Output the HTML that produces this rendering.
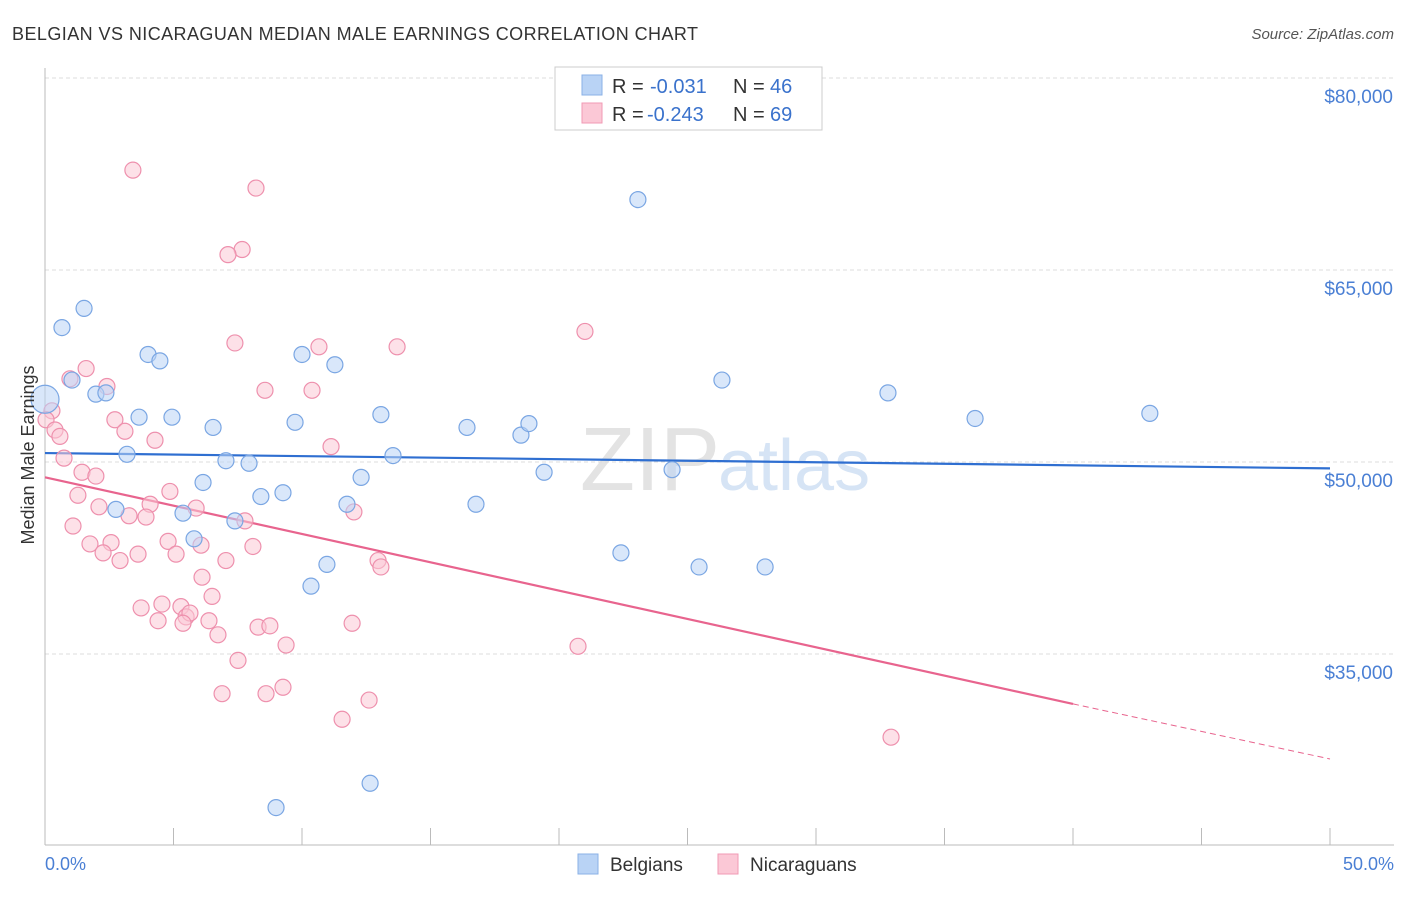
<!DOCTYPE html>
<html><head><meta charset="utf-8">
<style>
body{margin:0;background:#fff;font-family:"Liberation Sans",sans-serif;}
svg text{font-family:"Liberation Sans",sans-serif;}
</style></head>
<body>
<svg id="chart" width="1406" height="892" xmlns="http://www.w3.org/2000/svg">
<text x="12" y="40" font-size="18" fill="#333" textLength="686">BELGIAN VS NICARAGUAN MEDIAN MALE EARNINGS CORRELATION CHART</text>
<text x="1394" y="39" font-size="15" fill="#555" text-anchor="end" font-style="italic">Source: ZipAtlas.com</text>
<text x="720" y="490" font-size="90" fill="#e3e3e3" text-anchor="end" font-family="Liberation Serif">ZIP</text>
<text x="718" y="490" font-size="72" fill="#d6e4f5">atlas</text>
<g id="grid"></g>
<g id="axes"></g>
<g id="lines"></g>
<g id="pts"></g>
<text transform="translate(34,455) rotate(-90)" font-size="18" fill="#333" text-anchor="middle">Median Male Earnings</text>
<text x="45" y="870" font-size="18" fill="#4a7fd4">0.0%</text>
<text x="1394" y="870" font-size="18" fill="#4a7fd4" text-anchor="end">50.0%</text>
<g>
<rect x="555" y="67" width="267" height="63" fill="#fff" stroke="#ccc"/>
<rect x="582" y="75" width="20" height="20" fill="#b9d3f5" stroke="#8ab0e6"/>
<rect x="582" y="103" width="20" height="20" fill="#fbc8d6" stroke="#f09ab4"/>
<text x="612" y="93" font-size="20" fill="#333">R =</text>
<text x="650" y="93" font-size="20" fill="#3a72cc">-0.031</text>
<text x="733" y="93" font-size="20" fill="#333">N =</text>
<text x="770" y="93" font-size="20" fill="#3a72cc">46</text>
<text x="612" y="121" font-size="20" fill="#333">R =</text>
<text x="647" y="121" font-size="20" fill="#3a72cc">-0.243</text>
<text x="733" y="121" font-size="20" fill="#333">N =</text>
<text x="770" y="121" font-size="20" fill="#3a72cc">69</text>
</g>
<g>
<rect x="578" y="854" width="20" height="20" fill="#b9d3f5" stroke="#8ab0e6"/>
<text x="610" y="871" font-size="19" fill="#333">Belgians</text>
<rect x="718" y="854" width="20" height="20" fill="#fbc8d6" stroke="#f09ab4"/>
<text x="750" y="871" font-size="19" fill="#333">Nicaraguans</text>
</g>
</svg>
<script>
const yTicks=[35000,50000,65000,80000];
const yTickLabels=["$35,000","$50,000","$65,000","$80,000"];
const blueX=[0,0.66,1.52,1.05,1.98,2.37,4.01,4.47,3.66,4.94,3.19,6.54,2.76,5.37,5.8,6.15,7.04,7.94,7.39,8.4,9.26,9.73,10.0,11.28,10.35,10.97,11.75,12.30,13.07,13.54,16.42,16.77,18.52,18.83,19.42,22.41,23.07,24.40,25.45,26.34,28.02,32.80,36.19,42.99,8.99,12.65];
const blueY=[54900,60500,62000,56400,55300,55400,58400,57900,53500,53500,50600,52700,46300,46000,44000,48400,50100,49900,45400,47300,47600,53100,58400,57600,40300,42000,46700,48800,53700,50500,52700,46700,52100,53000,49200,42900,70500,49400,41800,56400,41800,55400,53400,53800,23000,24900];
const pinkX=[3.42,8.21,7.67,7.12,21.01,7.39,10.66,13.70,1.60,0.97,2.41,8.56,10.39,0.27,0.04,0.39,0.58,2.72,3.11,4.28,11.13,0.74,1.44,1.98,1.28,2.10,4.09,4.86,5.88,3.27,3.93,7.78,12.02,1.09,1.75,2.57,4.79,6.07,8.09,2.26,2.92,3.62,5.10,7.04,12.96,13.07,6.11,6.50,3.74,4.55,5.29,4.40,5.49,5.64,6.38,5.37,6.73,8.29,8.75,11.95,9.38,7.51,20.74,6.89,8.60,9.26,11.56,12.61,32.92];
const pinkY=[72800,71400,66600,66200,60200,59300,59000,59000,57300,56500,55900,55600,55600,54000,53300,52500,52000,53300,52400,51700,51200,50300,49200,48900,47400,46500,46700,47700,46400,45800,45700,45400,46100,45000,43600,43700,43800,43500,43400,42900,42300,42800,42800,42300,42300,41800,41000,39500,38600,38900,38700,37600,37900,38200,37600,37400,36500,37100,37200,37400,35700,34500,35600,31900,31900,32400,29900,31400,28500];
const blueTrend=[50700,49500];
const pinkTrend=[48800,31100,26800];
const NS='http://www.w3.org/2000/svg';
const X=p=>45+p*25.7, Y=v=>462-(v-50000)*0.0128;
function mk(t,a,parent){const e=document.createElementNS(NS,t);for(const k in a)e.setAttribute(k,a[k]);document.getElementById(parent).appendChild(e);return e;}
yTicks.forEach((v,i)=>{
 const g=mk('line',{x1:45,x2:1394,y1:Y(v),y2:Y(v),stroke:'#ddd','stroke-dasharray':'4,3'},'grid');
 
 
 const t=mk('text',{x:1393,y:Y(v)+25,'font-size':19,fill:'#4a7fd4','text-anchor':'end'},'grid');
 t.textContent=yTickLabels[i];
 
 
});
const xa=mk('line',{x1:45,x2:1394,y1:845,y2:845,stroke:'#bbb'},'axes');


const ya=mk('line',{x1:45,x2:45,y1:68,y2:845,stroke:'#bbb'},'axes');


for(let i=0;i<=10;i++){
 const t=mk('line',{x1:X(i*5),x2:X(i*5),y1:828,y2:845,stroke:'#bbb'},'axes');
 
 
}
function pts(xs,ys,fill,stroke,name){
 xs.forEach((x,i)=>{
  const c=mk('circle',{cx:X(x),cy:Y(ys[i]),r:(name==='belgian-point'&&i===0)?14:8,fill:fill,'fill-opacity':0.55,stroke:stroke,'stroke-width':1.2},'pts');
  
  
 });
}
pts(pinkX,pinkY,'#fbc8d6','#ee90ad','nicaraguan-point');
pts(blueX,blueY,'#b9d3f5','#7aa6e3','belgian-point');
const bl=mk('line',{x1:X(0),y1:Y(blueTrend[0]),x2:X(50),y2:Y(blueTrend[1]),stroke:'#2f6fd1','stroke-width':2.2},'lines');


const pl=mk('line',{x1:X(0),y1:Y(pinkTrend[0]),x2:X(40),y2:Y(pinkTrend[1]),stroke:'#e8648e','stroke-width':2.2},'lines');


const pd=mk('line',{x1:X(40),y1:Y(pinkTrend[1]),x2:X(50),y2:Y(pinkTrend[2]),stroke:'#e8648e','stroke-width':1,'stroke-dasharray':'6,4'},'lines');


</script>
</body></html>
